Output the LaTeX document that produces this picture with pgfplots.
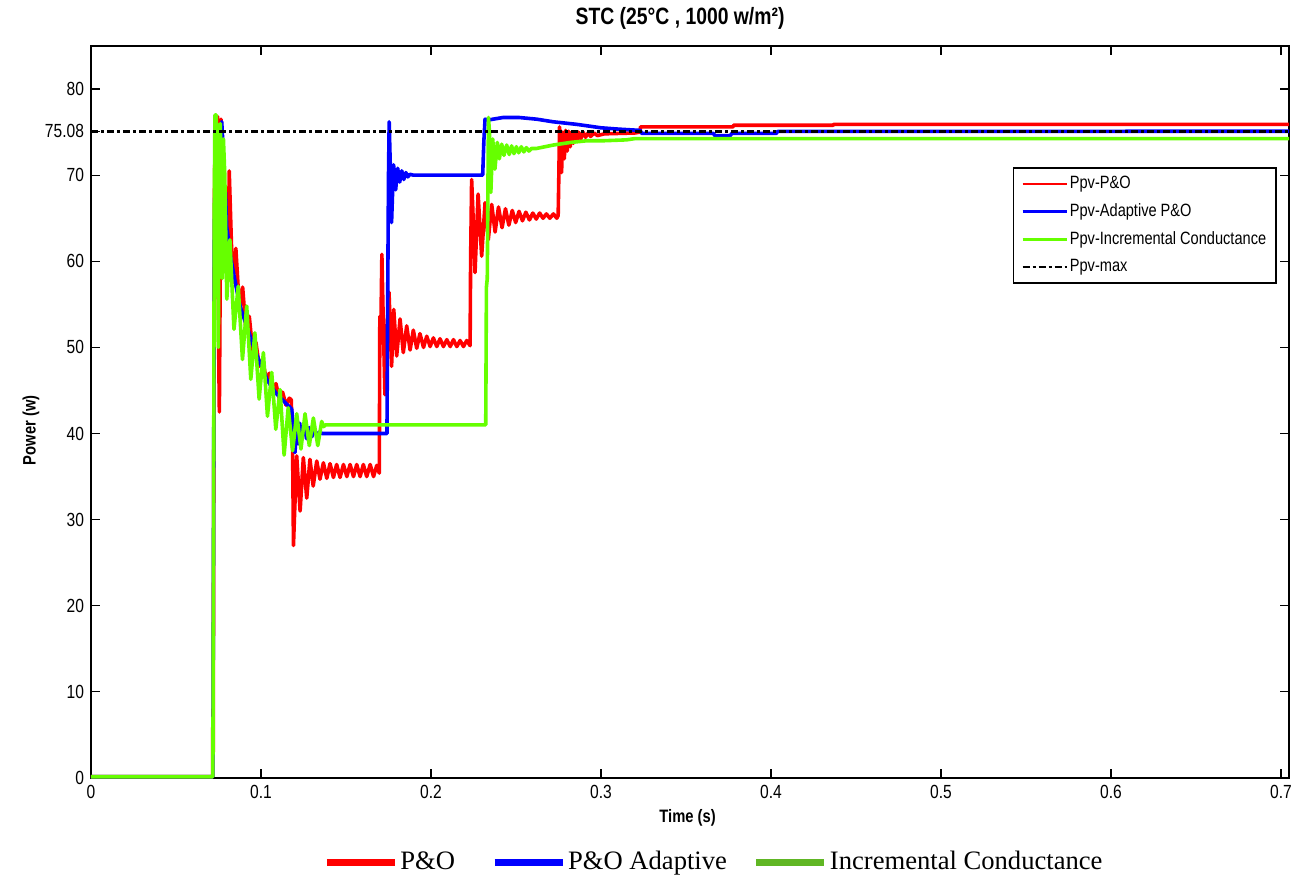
\documentclass[border=0pt]{standalone}
\usepackage{fontspec}
\usepackage{pgfplots}
\pgfplotsset{compat=1.18}
\newfontfamily\hv{Liberation Sans}[FakeStretch=0.82]
\newfontfamily\tms{Liberation Serif}
\definecolor{cred}{RGB}{255,0,0}
\definecolor{cblue}{RGB}{0,0,255}
\definecolor{cgreen}{RGB}{102,255,0}
\definecolor{lgreen}{RGB}{96,182,36}
\begin{document}
\begin{tikzpicture}
\begin{axis}[
  name=main, scale only axis, width=599pt, height=366pt,
  xmin=0, xmax=0.7047, ymin=0, ymax=85, clip=false,
  xtick={0,0.1,0.2,0.3,0.4,0.5,0.6,0.7},
  xticklabels={0,0.1,0.2,0.3,0.4,0.5,0.6,0.7},
  ytick={0,10,20,30,40,50,60,70,75.08,80},
  yticklabels={0,10,20,30,40,50,60,70,75.08,80},
  tick align=inside, xtick pos=both, ytick pos=both, major tick length=4.5pt,
  tick style={black, line width=0.6pt},
  axis line style={black, line width=0.9pt},
  ticklabel style={font=\hv\fontsize{9.5}{11}\selectfont, text=black},
  xlabel={Time (s)},
  xlabel style={font=\hv\bfseries\fontsize{9}{11}\selectfont, at={(axis description cs:0.498,-0.0546)}, anchor=center},
  ylabel={Power (w)},
  ylabel style={font=\hv\bfseries\fontsize{9}{11}\selectfont, at={(axis description cs:-0.0501,0.475)}, anchor=center},
  legend style={at={(axis description cs:0.990,0.8347)}, anchor=north east, draw=black, line width=0.8pt, fill=white,
    font=\hv\fontsize{8.9}{10.5}\selectfont, cells={anchor=west}, inner xsep=4pt, inner ysep=2.2pt, row sep=2.0pt, nodes={inner xsep=1pt, inner ysep=2pt}},
  legend image code/.code={\draw[#1, line width=1.2pt] (0pt,0pt) -- (22pt,0pt);},
  every axis plot/.append style={line join=round},
]
% P&O
\addplot[cred, line width=1.8pt] coordinates {
(0,0.15)(0.0715,0.15)(0.0717,8)(0.0719,3)(0.0723,45)(0.0727,70)(0.0733,76)(0.0739,70)(0.0745,76.8)(0.0751,50)(0.0755,42.5)(0.0759,55)(0.0765,76.5)(0.0771,74)(0.0777,62)(0.0783,67)(0.0791,60)(0.0800,65)(0.0808,61)(0.0813,70.5)
(0.0833,57.5)(0.0852,61.5)(0.0873,54.5)(0.0892,57.0)(0.0912,51.8)(0.0931,53.6)(0.0951,49.6)(0.0970,50.6)(0.0990,47.8)(0.1010,48.6)(0.1030,46.3)(0.1049,47.0)(0.1069,45.0)(0.1088,45.8)(0.1108,44.0)(0.1127,44.8)(0.1147,43.3)(0.1167,44.1)(0.1178,43.9)
(0.1186,38)(0.1191,27)(0.1198,31)(0.1210,37.4)(0.1230,31.0)(0.1249,37.2)(0.1269,32.5)(0.1288,37.0)(0.1307,33.9)(0.1328,36.8)(0.1347,34.7)(0.1367,36.6)(0.1387,34.8)(0.1406,36.5)(0.1426,34.9)(0.1445,36.4)(0.1465,34.9)(0.1485,36.4)(0.1505,35.0)(0.1524,36.4)(0.1544,35.0)(0.1563,36.4)(0.1583,35.0)(0.1602,36.4)(0.1622,35.0)(0.1642,36.4)(0.1662,35.0)(0.1681,36.3)(0.1696,35.4)
(0.1699,53.6)(0.1705,52)(0.1711,60.8)(0.1717,55)(0.1729,44.5)(0.1741,52)(0.1753,56.4)(0.1768,47.8)(0.1781,54.4)(0.1798,49.0)(0.1818,53.3)(0.1837,49.4)(0.1857,52.5)(0.1877,49.7)(0.1896,52.0)(0.1916,49.9)(0.1935,51.6)(0.1956,50.0)(0.1975,51.3)(0.1995,50.1)(0.2014,51.1)(0.2034,50.1)(0.2053,51.0)(0.2073,50.1)(0.2093,50.9)(0.2113,50.1)(0.2132,50.9)(0.2152,50.1)(0.2171,50.8)(0.2191,50.1)(0.2210,50.8)(0.2230,50.2)
(0.2233,60)(0.2239,69.5)(0.2246,66)(0.2259,58.7)(0.2277,67.8)(0.2298,60.6)(0.2318,66.8)(0.2337,62.5)(0.2357,66.6)(0.2377,63.4)(0.2397,66.3)(0.2418,63.9)(0.2438,66.1)(0.2458,64.2)(0.2478,65.9)(0.2498,64.5)(0.2518,65.8)(0.2538,64.7)(0.2558,65.7)(0.2579,64.8)(0.2599,65.6)(0.2619,64.9)(0.2639,65.6)(0.2659,65.0)(0.2679,65.5)(0.2699,65.0)(0.2720,65.5)(0.2740,65.0)(0.2748,65.3)
(0.2752,70)(0.2756,75.6)(0.2762,74)(0.2768,70.3)(0.2775,75.0)(0.2784,71.9)(0.2792,75.2)(0.2801,72.8)(0.2810,75.1)(0.2819,73.3)(0.2828,75.0)(0.2838,73.7)(0.2848,75.0)(0.2858,74.0)(0.2868,75.0)(0.2881,74.2)(0.2894,75.0)(0.2909,74.4)(0.2924,74.9)(0.2939,74.5)(0.2959,74.9)(0.2979,74.6)(0.3020,74.8)(0.3200,74.9)(0.3229,75.0)(0.3232,75.6)(0.3776,75.6)(0.3780,75.8)(0.4365,75.8)(0.4370,75.9)(0.7047,75.9)
};
\addlegendentry{Ppv-P\&O}
% Adaptive P&O
\addplot[cblue, line width=1.8pt] coordinates {
(0,0.15)(0.0717,0.15)(0.0721,30)(0.0725,62)(0.0731,72)(0.0737,66)(0.0745,73)(0.0753,64)(0.0761,71)(0.0769,76.2)(0.0775,74)(0.0783,66)(0.0791,68)(0.0798,64)(0.0805,63)(0.0815,61.2)(0.0835,59)(0.0856,56.8)(0.0877,54.8)(0.0896,53.6)(0.0916,52.5)(0.0936,51.3)(0.0954,50.2)(0.0976,49.1)(0.0994,48.2)(0.1017,47.2)(0.1034,46.3)(0.1053,45.7)(0.1073,45.1)(0.1092,44.6)(0.1112,44.2)(0.1132,43.8)(0.1151,43.4)(0.1168,43.1)(0.1181,42.8)
(0.1188,41)(0.1194,38.5)(0.1200,37.8)(0.1208,40.5)(0.1218,38.8)(0.1228,41.2)(0.1238,39.2)(0.1253,41.0)(0.1268,39.4)(0.1283,40.7)(0.1298,39.6)(0.1313,40.4)(0.1329,39.8)(0.1344,40.2)(0.1359,40.0)(0.1741,40.0)
(0.1745,55)(0.1750,70)(0.1754,76.2)(0.1758,73)(0.1762,70)(0.1768,64.5)(0.1774,68)(0.1780,71.2)(0.1792,68.3)(0.1804,70.8)(0.1816,69.2)(0.1828,70.5)(0.1840,69.5)(0.1852,70.3)(0.1864,69.8)(0.1876,70.1)(0.1896,70.0)(0.2304,70.0)
(0.2311,74)(0.2318,76.5)(0.2335,76.4)(0.2425,76.7)(0.2516,76.7)(0.2622,76.5)(0.2718,76.2)(0.2857,75.9)(0.3000,75.5)(0.3100,75.35)(0.3230,75.2)(0.3240,74.85)(0.3660,74.85)(0.3670,74.6)(0.3760,74.6)(0.3770,74.85)(0.4030,74.85)(0.4040,75.08)(0.7047,75.1)
};
\addlegendentry{Ppv-Adaptive P\&O}
% Incremental Conductance
\addplot[cgreen, line width=1.8pt] coordinates {
(0,0.15)(0.0717,0.15)(0.0721,30)(0.0725,66)(0.0729,77)(0.0737,77)(0.0743,71)(0.0749,50)(0.0755,73)(0.0761,76)(0.0767,66)(0.0773,58)(0.0779,74.2)(0.0787,70)(0.0799,55.6)(0.0817,62.5)(0.0841,52.1)(0.0866,57.1)(0.0891,48.6)(0.0916,54.8)(0.0940,46.3)(0.0964,51.7)(0.0989,44.0)(0.1014,49.4)(0.1038,42.0)(0.1063,47.1)(0.1087,40.5)(0.1112,45.1)(0.1136,37.5)(0.1160,43.0)(0.1186,38.0)(0.1210,42.3)(0.1235,38.2)(0.1259,42.3)(0.1284,38.6)(0.1308,41.8)(0.1334,38.6)(0.1357,41.4)(0.1369,40.8)(0.1379,41.0)(0.2322,41.0)
(0.2326,57)(0.2331,58)(0.2338,76.7)(0.2344,75)(0.2352,68)(0.2363,74.2)(0.2376,70.7)(0.2390,73.8)(0.2402,71.9)(0.2416,73.6)(0.2429,72.3)(0.2445,73.5)(0.2460,72.4)(0.2474,73.4)(0.2488,72.5)(0.2502,73.3)(0.2516,72.6)(0.2531,73.3)(0.2546,72.7)(0.2561,73.2)(0.2576,72.8)(0.2591,73.1)(0.2620,73.1)(0.2720,73.5)(0.2820,73.8)(0.2920,74.0)(0.3020,74.0)(0.3150,74.1)(0.3200,74.25)(0.7047,74.25)
};
\addlegendentry{Ppv-Incremental Conductance}
% Pmax
\addplot[black, line width=1.6pt, dash pattern=on 3.5pt off 1.5pt on 1.5pt off 1.5pt] coordinates {(0,75.08)(0.7047,75.08)};
\addlegendentry{Ppv-max}
\node[font=\hv\bfseries\fontsize{11.8}{14}\selectfont, anchor=center] at (axis description cs:0.4917,1.0383) {STC (25°C , 1000 w/m²)};
\end{axis}
\begin{axis}[
  at={(main.south west)}, anchor=south west, scale only axis, width=599pt, height=366pt,
  hide axis, xmin=0, xmax=1, ymin=0, ymax=1,
  legend columns=3,
  legend style={at={(axis description cs:0.1937,-0.1148)}, anchor=west, draw=none, fill=none, inner sep=0pt,
    font=\tms\fontsize{13.3}{15}\selectfont, nodes={inner sep=0pt},
    /tikz/every odd column/.style={column sep=1pt},
    /tikz/column 2/.style={column sep=18pt},
    /tikz/column 4/.style={column sep=13pt}},
  legend image code/.code={\draw[#1] (0pt,0pt) -- (34pt,0pt);},
]
\addlegendimage{cred, line width=3.5pt}\addlegendentry{P\&O}
\addlegendimage{cblue, line width=3.5pt}\addlegendentry{P\&O Adaptive}
\addlegendimage{lgreen, line width=3.5pt}\addlegendentry{Incremental Conductance}
\end{axis}
\pgfresetboundingbox
\path ([xshift=-45.5pt,yshift=-49.5pt]main.south west) rectangle ([xshift=4pt,yshift=23pt]main.north east);
\end{tikzpicture}
\end{document}
